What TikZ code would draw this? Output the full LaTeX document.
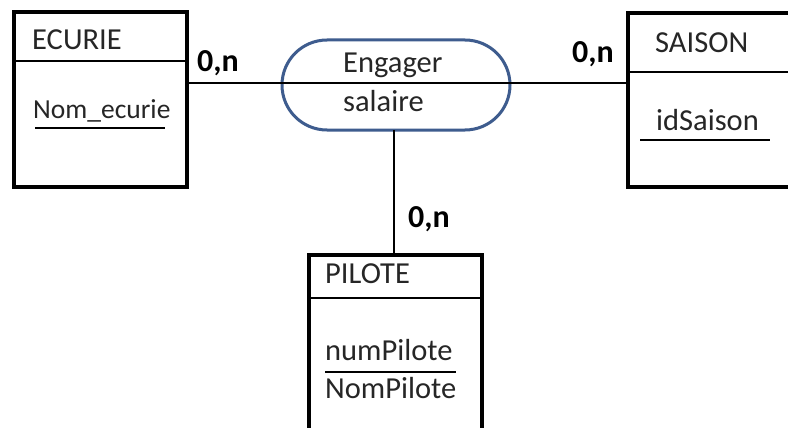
\documentclass[tikz,border=0pt]{standalone}
\usepackage{fontspec}
\setmainfont{Carlito}
\usetikzlibrary{shapes.misc, positioning}

\definecolor{assocblue}{RGB}{62,92,142}

\tikzset{
  entity/.style={draw, line width=4.5pt, rectangle, inner sep=0pt},
  assoc/.style={draw=assocblue, line width=3pt, rounded rectangle, inner sep=0pt},
  divider/.style={line width=2.6pt},
  link/.style={line width=2.2pt},
  attr/.style={anchor=base west, inner sep=0pt, text=black!85, font=\fontsize{30.5}{34}\selectfont},
  card/.style={anchor=base west, inner sep=0pt, font=\fontsize{32}{36}\selectfont\bfseries}
}

\begin{document}
\begin{tikzpicture}[x=1pt,y=-1pt]
\useasboundingbox (0,0) rectangle (788,428);
\clip (0,0) rectangle (788,428);
\fill[white] (0,0) rectangle (788,428);

% entities
\node[entity, minimum width=173pt, minimum height=175pt] (ecurie) at (100.5,99.5) {};
\node[entity, minimum width=182pt, minimum height=174pt] (saison) at (719,100) {};
\node[entity, minimum width=173pt, minimum height=215pt] (pilote) at (395.5,362.5) {};
\draw[divider] (14,61) -- (187,61);
\draw[divider] (628,72) -- (788,72);
\draw[divider] (309,298) -- (482,298);

% association
\node[assoc, minimum width=228pt, minimum height=90pt] (engager) at (396,85) {};

% links
\draw[link] (ecurie.east |- 0,83) -- (saison.west |- 0,83);
\draw[link] (394,130) -- (394,255);

% texts
\node[attr] (tEcurie) at (32,50) {ECURIE};
\node[attr, font=\fontsize{27.5}{32}\selectfont] (aNomEcurie) at (33,118) {Nom\_ecurie};
\draw[divider] (35,128) -- (165,128);
\node[attr] (tSaison) at (655,53) {SAISON};
\node[attr] (aIdSaison) at (656,130) {idSaison};
\draw[divider] (640,140) -- (770,140);
\node[attr] (tEngager) at (343,73) {Engager};
\node[attr] (aSalaire) at (343,112) {salaire};
\node[attr] (tPilote) at (325,283) {PILOTE};
\node[attr] (aNumPilote) at (325,360) {numPilote};
\draw[divider] (325,372) -- (456,372);
\node[attr] (aNomPilote) at (325,398) {NomPilote};

% cardinalities
\node[card] (cEcurie) at (197,72) {0,n};
\node[card] (cSaison) at (572,63) {0,n};
\node[card] (cPilote) at (408,227) {0,n};
\end{tikzpicture}
\end{document}
